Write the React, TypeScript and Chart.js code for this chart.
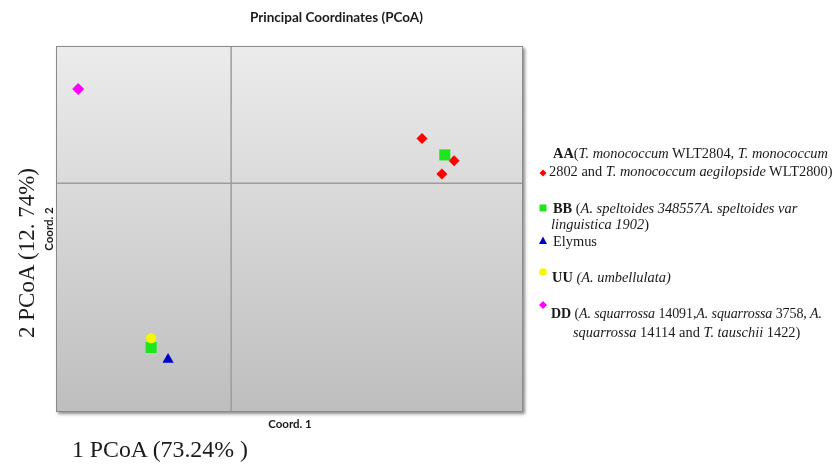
import React, { useEffect, useRef } from 'react';
import { Chart, registerables } from 'chart.js';

Chart.register(...registerables);

// ---- data ----
const seriesNames = ['AA', 'BB', 'Elymus', 'UU', 'DD'];
const aaX = [0.327, 0.382, 0.361];
const aaY = [0.098, 0.049, 0.02];
const bbX = [0.366, -0.137];
const bbY = [0.062, -0.359];
const elymusX = [-0.108];
const elymusY = [-0.385];
const uuX = [-0.137];
const uuY = [-0.339];
const ddX = [-0.262];
const ddY = [0.206];
const xRange = [-0.3, 0.5];
const yRange = [-0.5, 0.3];

const chartTitle = 'Principal Coordinates (PCoA)';
const xAxisTitle = 'Coord. 1';
const yAxisTitle = 'Coord. 2';
const xBigLabel = '1 PCoA (73.24% )';
const yBigLabel = '2 PCoA (12. 74%)';

const pts = (xs: number[], ys: number[]) => xs.map((x, i) => ({ x, y: ys[i] }));

const plotBg = {
  id: 'plotBg',
  beforeDraw(chart: any) {
    const { ctx, chartArea: a, scales } = chart;
    ctx.save();
    ctx.shadowColor = 'rgba(0,0,0,0.45)';
    ctx.shadowBlur = 3;
    ctx.shadowOffsetX = 2;
    ctx.shadowOffsetY = 2;
    const g = ctx.createLinearGradient(0, a.top, 0, a.bottom);
    g.addColorStop(0, '#ececec');
    g.addColorStop(1, '#bebebe');
    ctx.fillStyle = g;
    ctx.fillRect(a.left, a.top, a.width, a.height);
    ctx.restore();

    ctx.save();
    const x0 = scales.x.getPixelForValue(0);
    const y0 = scales.y.getPixelForValue(0);
    ctx.strokeStyle = '#9c9c9c';
    ctx.lineWidth = 1.5;
    ctx.beginPath();
    ctx.moveTo(x0, a.top);
    ctx.lineTo(x0, a.bottom);
    ctx.moveTo(a.left, y0);
    ctx.lineTo(a.right, y0);
    ctx.stroke();
    ctx.strokeStyle = '#8a8a8a';
    ctx.lineWidth = 1;
    ctx.strokeRect(a.left + 0.5, a.top + 0.5, a.width - 1, a.height - 1);
    ctx.restore();
  },
  afterDraw(chart: any) {
    // legend markers
    const ctx = chart.ctx;
    ctx.save();
    ctx.fillStyle = '#ff0000';
    ctx.beginPath();
    ctx.moveTo(543, 169.5); ctx.lineTo(546.5, 173); ctx.lineTo(543, 176.5); ctx.lineTo(539.5, 173);
    ctx.closePath(); ctx.fill();
    ctx.fillStyle = '#1ee61e';
    ctx.fillRect(539.5, 204.5, 7, 7);
    ctx.fillStyle = '#0000cc';
    ctx.beginPath();
    ctx.moveTo(543, 236.5); ctx.lineTo(547, 244); ctx.lineTo(539, 244);
    ctx.closePath(); ctx.fill();
    ctx.fillStyle = '#f7f700';
    ctx.beginPath(); ctx.arc(543, 272, 3.8, 0, Math.PI * 2); ctx.fill();
    ctx.fillStyle = '#ff00ff';
    ctx.beginPath();
    ctx.moveTo(543, 301); ctx.lineTo(547, 305); ctx.lineTo(543, 309); ctx.lineTo(539, 305);
    ctx.closePath(); ctx.fill();
    ctx.restore();
  },
};

const serif = '"Liberation Serif", "Times New Roman", serif';
const sans = 'Lato, "Open Sans", sans-serif';

const abs = (left: number, cy: number, extra: any = {}) => ({
  position: 'absolute' as const,
  left,
  top: cy - 9,
  lineHeight: '18px',
  whiteSpace: 'nowrap' as const,
  ...extra,
});

export default function App() {
  const ref = useRef<HTMLCanvasElement | null>(null);

  useEffect(() => {
    if (!ref.current) return;
    const chart = new Chart(ref.current, {
      type: 'scatter',
      data: {
        datasets: [
          { label: seriesNames[0], data: pts(aaX, aaY), pointStyle: 'rectRot', pointRadius: 5.5, backgroundColor: '#ff0000', borderWidth: 0, order: 5 },
          { label: seriesNames[1], data: pts(bbX, bbY), pointStyle: 'rect', pointRadius: 7.8, backgroundColor: '#1ee61e', borderWidth: 0, order: 4 },
          { label: seriesNames[2], data: pts(elymusX, elymusY), pointStyle: 'triangle', pointRadius: 6.5, backgroundColor: '#0000cc', borderWidth: 0, order: 3 },
          { label: seriesNames[3], data: pts(uuX, uuY), pointStyle: 'circle', pointRadius: 5, backgroundColor: '#f7f700', borderWidth: 0, order: 2 },
          { label: seriesNames[4], data: pts(ddX, ddY), pointStyle: 'rectRot', pointRadius: 6, backgroundColor: '#ff00ff', borderWidth: 0, order: 1 },
        ],
      },
      options: {
        responsive: false,
        animation: false,
        layout: { padding: { left: 56, top: 46, right: 832 - 523, bottom: 464 - 412 } },
        plugins: { legend: { display: false }, title: { display: false }, tooltip: { enabled: false } },
        scales: {
          x: { type: 'linear', min: xRange[0], max: xRange[1], display: false },
          y: { type: 'linear', min: yRange[0], max: yRange[1], display: false },
        },
      },
      plugins: [plotBg],
    });
    return () => chart.destroy();
  }, []);

  return (
    <div style={{ position: 'absolute', left: 0, top: 0, width: 832, height: 464, background: '#fff', overflow: 'hidden' }}>
      <canvas ref={ref} width={832} height={464} style={{ position: 'absolute', left: 0, top: 0 }} />
      <div style={{ position: 'absolute', left: 250, top: 9, fontFamily: sans, fontWeight: 700, fontSize: 13.5, color: '#1a1a1a', whiteSpace: 'nowrap' }}>{chartTitle}</div>
      <div style={{ position: 'absolute', left: 290, top: 423, transform: 'translate(-50%,-50%)', fontFamily: sans, fontWeight: 700, fontSize: 11.5, color: '#1a1a1a', whiteSpace: 'nowrap' }}>{xAxisTitle}</div>
      <div style={{ position: 'absolute', left: 48, top: 229, transform: 'translate(-50%,-50%) rotate(-90deg)', fontFamily: sans, fontWeight: 700, fontSize: 11.5, color: '#1a1a1a', whiteSpace: 'nowrap' }}>{yAxisTitle}</div>
      <div style={{ position: 'absolute', left: 72, top: 450, transform: 'translateY(-50%)', fontFamily: serif, fontSize: 23.8, color: '#1a1a1a', whiteSpace: 'nowrap', lineHeight: 1 }}>{xBigLabel}</div>
      <div style={{ position: 'absolute', left: 26, top: 253, transform: 'translate(-50%,-50%) rotate(-90deg)', fontFamily: serif, fontSize: 23, color: '#1a1a1a', whiteSpace: 'nowrap', lineHeight: 1 }}>{yBigLabel}</div>

      <div style={{ fontFamily: serif, fontSize: 14.4, color: '#1a1a1a' }}>
        <div style={abs(553, 153)}><b>AA</b>(<i>T. monococcum</i> WLT2804, <i>T. monococcum</i></div>
        <div style={abs(549, 171)}>2802 and <i>T. monococcum aegilopside</i> WLT2800)</div>
        <div style={abs(553, 208)}><b>BB</b> (<i>A. speltoides 348557A. speltoides var</i></div>
        <div style={abs(551, 224)}><i>linguistica 1902</i>)</div>
        <div style={abs(553, 241)}>Elymus</div>
        <div style={abs(552, 277)}><b>UU</b> <i>(A. umbellulata)</i></div>
        <div style={abs(551, 314, { fontSize: 14, letterSpacing: '-0.1px' })}><b>DD</b> (<i>A. squarrossa</i> 14091,<i>A. squarrossa</i> 3758, <i>A.</i></div>
        <div style={abs(573, 332)}><i>squarrossa</i> 14114 and <i>T. tauschii</i> 1422)</div>
      </div>
    </div>
  );
}
